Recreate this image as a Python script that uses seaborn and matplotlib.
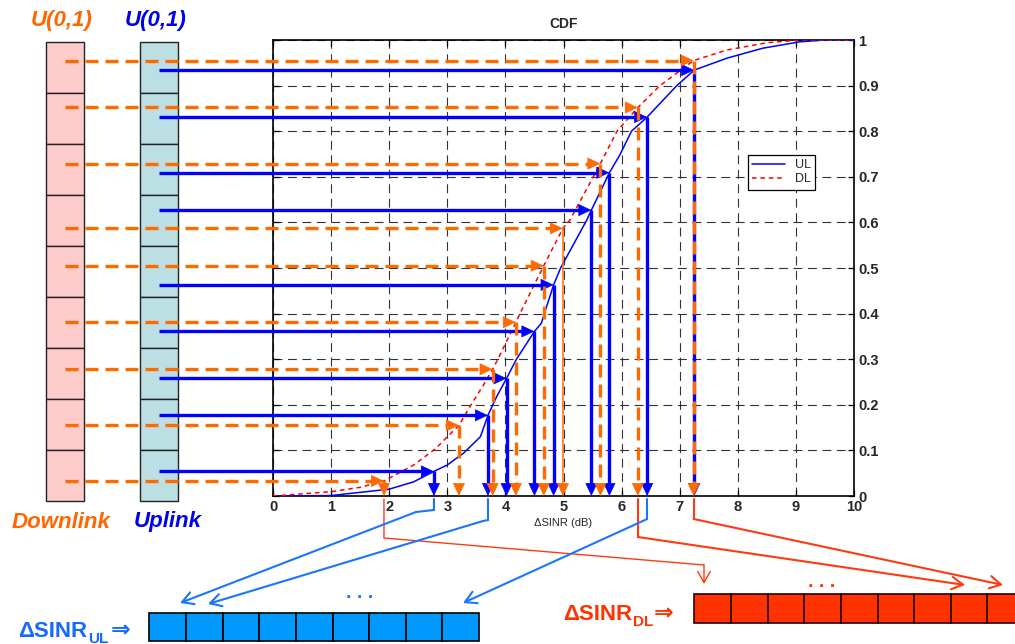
import matplotlib
matplotlib.use("Agg")
import matplotlib.pyplot as plt
import seaborn as sns
from matplotlib.patches import Rectangle

# Empirical CDFs of the SINR offset (dB) for uplink and downlink
ul_sinr = [0, 1, 2, 2.42, 2.77, 3.0, 3.28, 3.57, 3.70, 3.85, 4.02, 4.19, 4.50, 4.62,
           4.67, 4.83, 4.95, 5.40, 5.48, 5.79, 5.97, 6.17, 6.44, 6.95, 7.25, 7.81,
           8.43, 9.07, 9.5, 10]
ul_cdf = [0, 0.001, 0.015, 0.031, 0.054, 0.068, 0.094, 0.13, 0.177, 0.218, 0.258,
          0.3, 0.361, 0.379, 0.4, 0.463, 0.5, 0.605, 0.627, 0.709, 0.748, 0.8, 0.831,
          0.9, 0.934, 0.96, 0.982, 0.996, 1.0, 1.0]
dl_sinr = [0, 1, 1.5, 1.91, 2.0, 2.42, 2.8, 3.0, 3.20, 3.39, 3.62, 3.78, 3.87, 4.18,
           4.25, 4.66, 4.99, 5.11, 5.635, 5.92, 6.28, 6.66, 7.24, 7.81, 8.5, 9.07, 10]
dl_cdf = [0, 0.0095, 0.019, 0.033, 0.039, 0.068, 0.104, 0.13, 0.155, 0.196, 0.243,
          0.278, 0.3, 0.381, 0.4, 0.505, 0.587, 0.605, 0.729, 0.8, 0.852, 0.9, 0.955,
          0.978, 0.994, 1.0, 1.0]

# Uniform draws and the SINR samples obtained by inverting each CDF
ul_draws = [0.054, 0.177, 0.258, 0.361, 0.463, 0.627, 0.709, 0.831, 0.934]
ul_samples = [2.77, 3.70, 4.02, 4.50, 4.83, 5.48, 5.79, 6.44, 7.25]
dl_draws = [0.033, 0.155, 0.278, 0.381, 0.505, 0.587, 0.729, 0.852, 0.955]
dl_samples = [1.91, 3.20, 3.78, 4.18, 4.66, 4.99, 5.635, 6.28, 7.24]

x_ticks = list(range(0, 11))
y_ticks = [0, 0.1, 0.2, 0.3, 0.4, 0.5, 0.6, 0.7, 0.8, 0.9, 1.0]
y_tick_labels = ["0", "0.1", "0.2", "0.3", "0.4", "0.5", "0.6", "0.7", "0.8", "0.9", "1"]

BLUE = "#0000FF"
ORANGE = "#FF6A00"
UL_LINK = "#1A75FF"
DL_LINK = "#FF3A10"

sns.set_style("white")
plt.rcParams["font.family"] = ["Liberation Sans", "DejaVu Sans"]

W, H = 1015, 644
fig = plt.figure(figsize=(W / 100, H / 100), dpi=100)

# pixel-space canvas for the side columns and the sample arrays
ov = fig.add_axes([0, 0, 1, 1], zorder=0)
ov.set_xlim(0, W)
ov.set_ylim(H, 0)
ov.axis("off")

# CDF panel
AX_L, AX_T, AX_W, AX_H = 273, 40, 581, 456
ax = fig.add_axes([AX_L / W, (H - AX_T - AX_H) / H, AX_W / W, AX_H / H], zorder=1)
ax.set_xlim(0, 10)
ax.set_ylim(0, 1)

sns.lineplot(x=ul_sinr, y=ul_cdf, ax=ax, color=BLUE, lw=1.1, label="UL",
             sort=False, estimator=None, zorder=3)
sns.lineplot(x=dl_sinr, y=dl_cdf, ax=ax, color="#FF0000", lw=1.1,
             linestyle=(0, (3, 2.5)), label="DL", sort=False, estimator=None, zorder=3)

ax.set_xticks(x_ticks)
ax.set_yticks(y_ticks)
ax.set_yticklabels(y_tick_labels)
ax.grid(True, color="#333333", lw=0.8, linestyle=(0, (8, 5)))
ax.set_axisbelow(True)
for s in ax.spines.values():
    s.set_visible(True)
    s.set_color("black")
    s.set_linewidth(1.2)
ax.tick_params(axis="both", direction="in", length=4, width=0.9, color="black",
               top=True, bottom=True, left=True, right=True,
               labelleft=False, labelright=True, labelsize=10.5, pad=3)
for lab in ax.get_xticklabels() + ax.get_yticklabels():
    lab.set_fontweight("bold")
ax.set_title("CDF", fontsize=10, fontweight="bold", pad=9)
ax.set_xlabel("ΔSINR (dB)", fontsize=8, labelpad=3)
ax.set_ylabel("")

leg = ax.legend(loc="upper left", bbox_to_anchor=((748 - AX_L) / AX_W, (AX_T + AX_H - 155) / AX_H),
                borderaxespad=0, frameon=True, fancybox=False, edgecolor="black",
                framealpha=1, fontsize=9, handlelength=2.6, handletextpad=0.8,
                borderpad=0.35, labelspacing=0.15)
leg.get_frame().set_linewidth(0.9)

# --- inverse-transform arrows -------------------------------------------
p0 = ax.transData.transform((0, 0))
p1 = ax.transData.transform((1, 1))
px_x, px_y = p1[0] - p0[0], p1[1] - p0[1]
HEAD = 12.0
hx, hy = HEAD / px_x, HEAD / px_y


def fig_px_to_x(px):
    return ax.transData.inverted().transform((px, 0))[0]


def head(base, tip, color, z):
    ax.annotate("", xy=tip, xytext=base, xycoords="data", textcoords="data",
                annotation_clip=False, zorder=z,
                arrowprops=dict(arrowstyle="-|>,head_length=8.5,head_width=4",
                                mutation_scale=1, color=color, lw=0.5,
                                shrinkA=0, shrinkB=0))


def draw_arrows(draws, samples, start_px, color, dashed, z, thin=()):
    x_start = fig_px_to_x(start_px)
    ls = (0, (3.9, 2.1)) if dashed else "-"
    for i, (u, x) in enumerate(zip(draws, samples)):
        # horizontal: from the uniform draw to the CDF
        ax.plot([x_start, x - hx], [u, u], color=color, lw=2.4, linestyle=ls,
                clip_on=False, solid_capstyle="butt", dash_capstyle="butt", zorder=z)
        head((x - hx, u), (x, u), color, z)
        # vertical: from the CDF down to the sample value
        if i in thin:
            ax.plot([x, x], [u, hy], color=color, lw=1.1, clip_on=False, zorder=z)
        else:
            ax.plot([x, x], [u, hy], color=color, lw=2.4, linestyle=ls, clip_on=False,
                    solid_capstyle="butt", dash_capstyle="butt", zorder=z)
        head((x, hy), (x, 0), color, z)


draw_arrows(ul_draws, ul_samples, 159, BLUE, False, 4)
draw_arrows(dl_draws, dl_samples, 65, ORANGE, True, 5, thin=(5,))

# --- uniform-draw columns --------------------------------------------------
n_cells = len(ul_draws)
col_top, col_bot = 42, 501
cell_h = (col_bot - col_top) / n_cells
for i in range(n_cells):
    ov.add_patch(Rectangle((46, col_top + i * cell_h), 38, cell_h, fc="#FFCCCC",
                           ec="#222222", lw=1.0))
    ov.add_patch(Rectangle((140, col_top + i * cell_h), 38, cell_h, fc="#BBDFE2",
                           ec="#222222", lw=1.0))

big = dict(fontsize=16, fontweight="bold", fontstyle="italic", ha="center", va="center")
ov.text(62, 20, "U(0,1)", color="#FF6600", **big)
ov.text(156, 20, "U(0,1)", color="#0000EE", **big)
ov.text(61, 522, "Downlink", color="#FF6600", **big)
ov.text(168, 522, "Uplink", color="#0000EE", **big)

# --- sample arrays -----------------------------------------------------------
cw = 36.65
for i in range(n_cells):
    ov.add_patch(Rectangle((149.3 + i * cw, 612.7), cw, 28.3, fc="#0099FF",
                           ec="black", lw=1.2))
    ov.add_patch(Rectangle((694.3 + i * cw, 594), cw, 29, fc="#FF3300",
                           ec="#2a0000", lw=1.2))


def sample_px(x):
    return ax.transData.transform((x, 0))[0]


def link(points, color, lw):
    xs = [p[0] for p in points[:-1]]
    ys = [p[1] for p in points[:-1]]
    ov.plot(xs, ys, color=color, lw=lw, solid_joinstyle="miter")
    ov.annotate("", xy=points[-1], xytext=points[-2], xycoords="data",
                arrowprops=dict(arrowstyle="->,head_length=8,head_width=4.5",
                                mutation_scale=1, color=color, lw=lw,
                                shrinkA=0, shrinkB=0))


# downlink samples to their array slots
s = sample_px(dl_samples[0])
link([(s, 499), (s, 538), (704, 565), (704, 584)], DL_LINK, 1.0)
s = sample_px(dl_samples[7])
link([(s, 499), (s, 537), (965, 585)], DL_LINK, 1.5)
s = sample_px(dl_samples[8])
link([(s, 499), (s, 519), (1003, 585)], DL_LINK, 1.5)

# uplink samples to their array slots
s = sample_px(ul_samples[0])
link([(s, 499), (s, 510), (s - 18, 512), (180, 603)], UL_LINK, 1.5)
s = sample_px(ul_samples[1])
link([(s, 499), (s, 520), (s - 5, 521), (208, 604)], UL_LINK, 1.5)
s = sample_px(ul_samples[7])
link([(s, 499), (s, 519), (463, 603)], UL_LINK, 1.5)

ov.text(360, 598, ". . .", color=UL_LINK, fontsize=14, fontweight="bold", ha="center", va="baseline")
ov.text(822, 587, ". . .", color="#FF3300", fontsize=14, fontweight="bold", ha="center", va="baseline")

lab = dict(fontweight="bold", va="baseline", ha="left")
ov.text(18, 637, "ΔSINR", color="#1469FF", fontsize=16, **lab)
ov.text(88, 643, "UL", color="#1469FF", fontsize=11, **lab)
ov.text(111, 637, "⇒", color="#1469FF", fontsize=17, **lab)
ov.text(563, 620, "ΔSINR", color="#FF3300", fontsize=16, **lab)
ov.text(633, 626, "DL", color="#FF3300", fontsize=11, **lab)
ov.text(654, 620, "⇒", color="#FF3300", fontsize=17, **lab)

fig.savefig("out.png", dpi=100)
